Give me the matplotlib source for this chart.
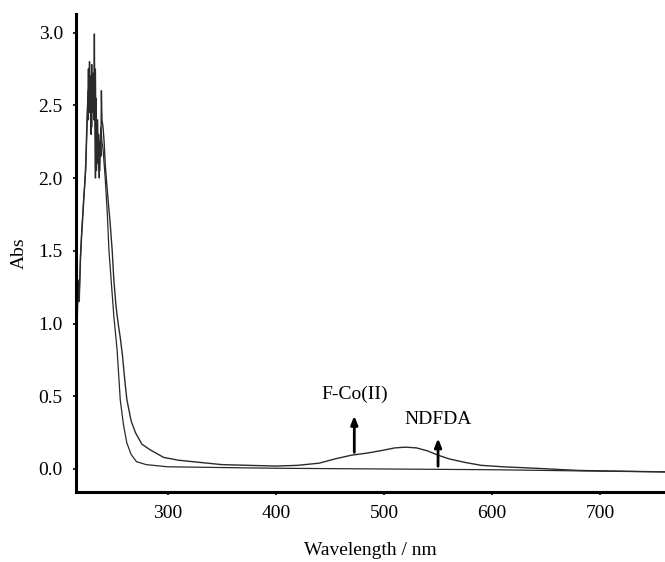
import matplotlib
matplotlib.use("Agg")
import matplotlib.pyplot as plt
from matplotlib.ticker import FormatStrFormatter

plt.rcParams['font.family'] = ['Liberation Serif', 'DejaVu Serif']

# Absorption spectrum with the complex band (F-Co(II))
wl_complex = [215, 216, 217, 218, 219, 221, 223, 224, 225, 226, 226.5, 227, 227.5,
              228, 228.5, 229, 229.5, 230, 231, 231.5, 232, 232.5, 233, 233.5, 234,
              235, 235.5, 236, 237, 237.5, 238, 238.5, 239, 240, 241, 242, 243, 245,
              246.5, 248.5, 250, 252, 254, 256, 258, 260, 262, 266, 270, 276, 284,
              296, 310, 330, 350, 400, 420, 440, 455, 470, 485, 500, 510, 520, 530,
              540, 550, 560, 575, 590, 610, 640, 680, 720, 760]
abs_complex = [0.78, 1.00, 1.25, 1.15, 1.45, 1.70, 1.95, 2.10, 2.35, 2.55, 2.75, 2.50,
               2.80, 2.45, 2.70, 2.30, 2.78, 2.50, 2.72, 2.40, 2.99, 2.30, 2.00, 2.55,
               2.20, 2.40, 2.10, 2.30, 2.05, 2.25, 2.15, 2.60, 2.40, 2.35, 2.25, 2.10,
               2.00, 1.82, 1.70, 1.50, 1.30, 1.12, 1.00, 0.90, 0.78, 0.62, 0.48, 0.33,
               0.25, 0.17, 0.13, 0.08, 0.06, 0.045, 0.03, 0.02, 0.025, 0.04, 0.07,
               0.095, 0.11, 0.13, 0.145, 0.15, 0.145, 0.125, 0.095, 0.07, 0.045,
               0.025, 0.015, 0.005, -0.01, -0.015, -0.02]

# Absorption spectrum of the free ligand (NDFDA)
wl_ligand = [215, 216, 217, 218, 220, 222, 224, 225, 226, 226.5, 227, 228, 229,
             229.5, 230, 231, 231.5, 232, 233, 233.5, 234, 235, 236, 236.5, 237, 238,
             239, 240, 242, 244, 245.5, 248, 250, 253, 256, 259, 262, 266, 271, 280,
             300, 400, 500, 600, 700, 760]
abs_ligand = [0.90, 1.15, 1.30, 1.20, 1.60, 1.85, 2.05, 2.30, 2.60, 2.40, 2.70, 2.50,
              2.65, 2.35, 2.60, 2.45, 2.70, 2.55, 2.75, 2.30, 2.05, 2.30, 2.10, 2.00,
              2.20, 2.35, 2.25, 2.20, 2.00, 1.75, 1.50, 1.25, 1.05, 0.82, 0.47, 0.30,
              0.18, 0.10, 0.05, 0.03, 0.015, 0.005, 0.0, -0.005, -0.015, -0.02]

x_ticks = [300, 400, 500, 600, 700]
y_ticks = [0.0, 0.5, 1.0, 1.5, 2.0, 2.5, 3.0]

fig = plt.figure(figsize=(6.65, 5.62), dpi=100)
ax = fig.add_axes([0.1143, 0.1246, 0.8857, 0.8504])

line_color = '#2a2a2a'
ax.plot(wl_complex, abs_complex, color=line_color, lw=1.0)
ax.plot(wl_ligand, abs_ligand, color=line_color, lw=0.9)

ax.set_xlim(215, 760)
ax.set_ylim(-0.158, 3.127)
ax.set_xticks(x_ticks)
ax.set_yticks(y_ticks)
ax.yaxis.set_major_formatter(FormatStrFormatter('%.1f'))

for side in ('top', 'right'):
    ax.spines[side].set_visible(False)
for side in ('left', 'bottom'):
    ax.spines[side].set_linewidth(2.2)
    ax.spines[side].set_color('black')

ax.tick_params(direction='out', length=2.5, width=1.2, labelsize=14)
ax.tick_params(axis='x', pad=7)
ax.tick_params(axis='y', pad=7)

ax.set_xlabel('Wavelength / nm', fontsize=14, labelpad=14)
ax.set_ylabel('Abs', fontsize=14, labelpad=8)

arrow_kw = dict(arrowstyle='-|>,head_length=0.5,head_width=0.2', color='black', lw=2.0)
ax.annotate('', xy=(472.5, 0.385), xytext=(472.5, 0.095), arrowprops=arrow_kw)
ax.text(472.5, 0.51, 'F-Co(II)', ha='center', va='center', fontsize=14)
ax.annotate('', xy=(550, 0.23), xytext=(550, 0.0), arrowprops=arrow_kw)
ax.text(550, 0.34, 'NDFDA', ha='center', va='center', fontsize=14)

fig.savefig('out.png', dpi=100)
